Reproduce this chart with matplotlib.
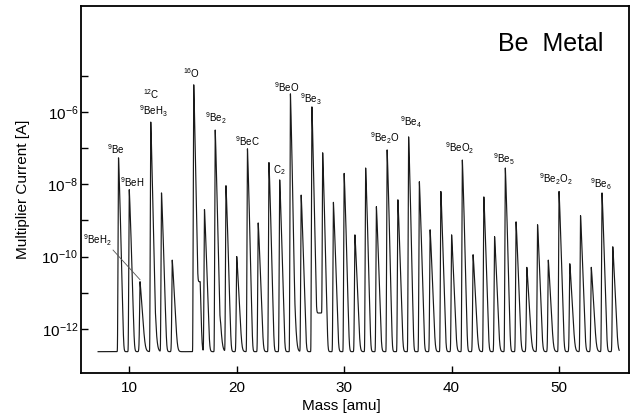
import numpy as np
import matplotlib
matplotlib.use("Agg")
import matplotlib.pyplot as plt
from matplotlib.ticker import FixedLocator, NullLocator

plt.rcParams["font.family"] = ["Liberation Sans", "DejaVu Sans"]
plt.rcParams["mathtext.default"] = "regular"

# ---- data (log10 of multiplier current, A)
masses = [9, 10, 11, 12, 13, 14, 16, 17, 18, 19, 20, 21, 22, 23, 24, 25,
          26, 27, 28, 29, 30, 31, 32, 33, 34, 35, 36, 37, 38, 39, 40, 41,
          42, 43, 44, 45, 46, 47, 48, 49, 50, 51, 52, 53, 54, 55]
log_heights = [-7.27, -8.15, -10.7, -6.28, -8.24, -10.1, -5.25, -8.7, -6.5,
               -8.04, -10.0, -7.02, -9.07, -7.4, -7.88, -5.5, -8.3, -5.86,
               -7.13, -8.5, -7.7, -9.4, -7.55, -8.62, -7.05, -8.43, -6.69,
               -7.93, -9.26, -8.2, -9.4, -7.33, -9.95, -8.35, -9.45, -7.55,
               -9.04, -10.3, -9.12, -10.1, -8.2, -10.2, -8.87, -10.3, -8.24,
               -9.73]
log_baseline = -12.63
scan_range = (7.1, 55.6)

# low-level shoulders after some of the big peaks
shoulder_masses = [12, 16, 18, 25, 27]
shoulder_levels = [-11.85, -10.7, -11.9, -11.7, -11.6]
shoulder_widths = [0.45, 0.6, 0.5, 0.45, 0.93]

label_texts = [r"${}^{9}$Be", r"${}^{9}$BeH", r"${}^{12}$C", r"${}^{9}$BeH$_3$",
               r"${}^{16}$O", r"${}^{9}$Be$_2$", r"${}^{9}$BeC", r"C$_2$",
               r"${}^{9}$BeO", r"${}^{9}$Be$_3$", r"${}^{9}$Be$_2$O",
               r"${}^{9}$Be$_4$", r"${}^{9}$BeO$_2$", r"${}^{9}$Be$_5$",
               r"${}^{9}$Be$_2$O$_2$", r"${}^{9}$Be$_6$"]
label_x = [8.76, 10.25, 12.02, 12.2, 15.83, 18.07, 20.95, 23.93, 24.67,
           26.9, 33.78, 36.2, 40.77, 44.86, 49.7, 53.88]
label_logy = [-7.02, -7.94, -5.50, -5.97, -4.92, -6.17, -6.80, -7.60, -5.31,
              -5.64, -6.72, -6.28, -7.0, -7.30, -7.85, -7.99]


def spectrum(x):
    """Sum of asymmetric peaks on a flat baseline (linear current)."""
    total = np.full_like(x, 10.0 ** log_baseline)
    for m, h in zip(masses, log_heights):
        d = x - m
        span = h - log_baseline + 0.3
        drop = np.where(d >= 0, span * (d / 0.5) ** 1.15, span * (-d / 0.1))
        total += 10.0 ** (h - drop)
    for m, lev, w in zip(shoulder_masses, shoulder_levels, shoulder_widths):
        d = x - m
        span = lev - log_baseline + 0.3
        drop = np.where(d < 0, 50.0, np.where(d <= w, 0.0, span * (d - w) / 0.2))
        total += 10.0 ** (lev - drop)
    return total


x = np.arange(scan_range[0], scan_range[1], 0.002)
y = spectrum(x)

fig = plt.figure(figsize=(6.34, 4.20), dpi=100)
ax = fig.add_axes([0.1278, 0.1119, 0.8643, 0.8738])
ax.plot(x, y, color="#1a1a1a", linewidth=0.85)

ax.set_yscale("log")
ax.set_xlim(5.51, 56.51)
ax.set_ylim(10 ** -13.22, 10 ** -3.07)

exps = list(range(-12, -4))
ax.yaxis.set_major_locator(FixedLocator([10.0 ** e for e in exps]))
ax.yaxis.set_minor_locator(NullLocator())
ax.set_yticklabels([rf"10$^{{{e}}}$" if e % 2 == 0 else "" for e in exps])
ax.set_xticks([10, 20, 30, 40, 50])
ax.tick_params(axis="both", direction="in", length=5, width=1.0,
               labelsize=11, top=False, right=False)
ax.tick_params(axis="y", pad=2)
ax.tick_params(axis="x", pad=6)
for s in ax.spines.values():
    s.set_linewidth(1.3)

ax.set_xlabel("Mass [amu]", fontsize=11)
ax.xaxis.set_label_coords(0.476, -0.07)
ax.set_ylabel("Multiplier Current [A]", fontsize=11)
ax.yaxis.set_label_coords(-0.094, 0.5)

for t, lx, ly in zip(label_texts, label_x, label_logy):
    ax.text(lx, 10.0 ** ly, t, fontsize=7, ha="center", va="center")

# 9BeH2 label with a leader line down to its small peak
ax.text(7.0, 10.0 ** -9.54, r"${}^{9}$BeH$_2$", fontsize=7,
        ha="center", va="center")
ax.plot([8.49, 11.0], [10.0 ** -9.82, 10.0 ** -10.64],
        color="#555555", linewidth=0.6)

ax.text(0.858, 0.896, "Be  Metal", transform=ax.transAxes,
        fontsize=18, ha="center", va="center")

fig.savefig("out.png", dpi=100)
